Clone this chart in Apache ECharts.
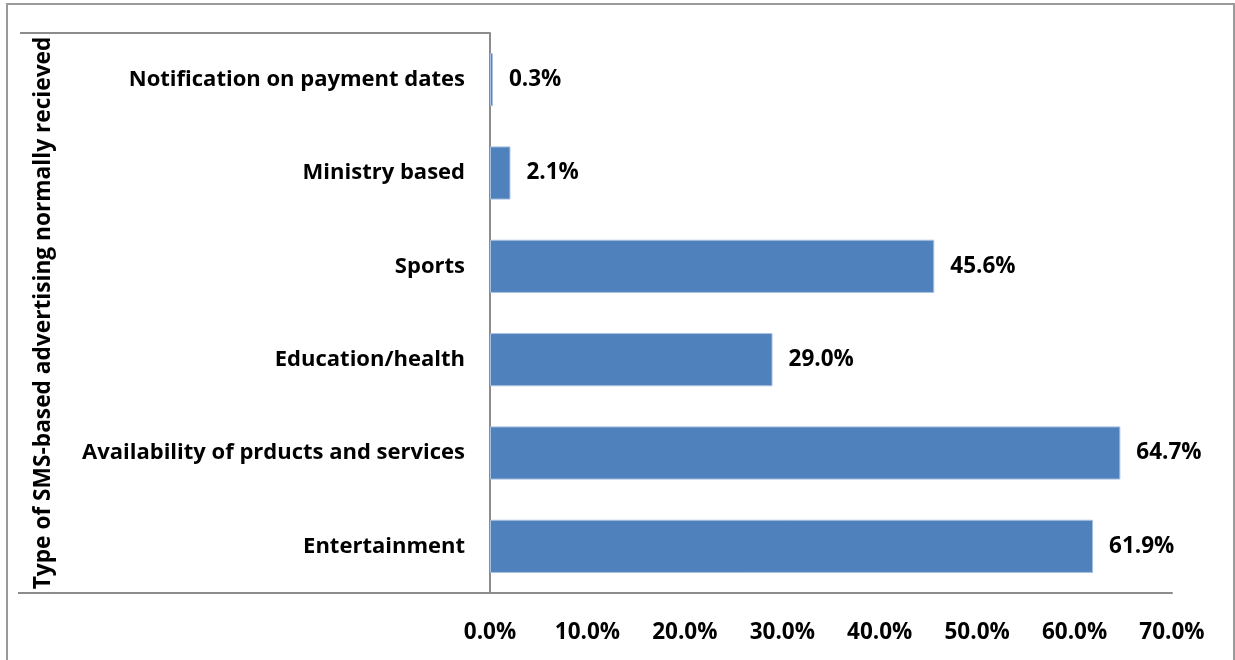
<!DOCTYPE html>
<html>
<head>
<meta charset="utf-8">
<script src="https://cdn.jsdelivr.net/npm/echarts@6/dist/echarts.min.js"></script>
<style>
  html, body { margin: 0; padding: 0; background: #ffffff; }
  #chart { width: 1235px; height: 660px; }
</style>
</head>
<body>
<div id="chart"></div>
<script>
// Categories listed bottom-to-top (category y axis grows upward)
const categories = [
  'Entertainment',
  'Availability of prducts and services',
  'Education/health',
  'Sports',
  'Ministry based',
  'Notification on payment dates'
];
const shares = [61.9, 64.7, 29.0, 45.6, 2.1, 0.3];
const xTicks = [0, 10, 20, 30, 40, 50, 60, 70];
const axisTitle = 'Type of SMS-based advertising normally recieved';

const FONT = '"Open Sans", Lato, sans-serif';
const GRID = { left: 490, right: 63, top: 33, bottom: 67 };
const LINE = '#8c8c8c';

const chart = echarts.init(document.getElementById('chart'), null, { renderer: 'canvas' });

const plotBottom = 660 - GRID.bottom;

chart.setOption({
  backgroundColor: '#ffffff',
  animation: false,
  grid: GRID,
  xAxis: {
    type: 'value',
    min: xTicks[0],
    max: xTicks[xTicks.length - 1],
    interval: 10,
    axisLine: { show: true, lineStyle: { color: LINE, width: 2 } },
    axisTick: { show: false },
    splitLine: { show: false },
    axisLabel: {
      margin: 28,
      color: '#000',
      fontFamily: FONT,
      fontWeight: 'bold',
      fontSize: 22.5,
      formatter: v => v.toFixed(1) + '%'
    }
  },
  yAxis: {
    type: 'category',
    data: categories,
    axisLine: { show: true, lineStyle: { color: LINE, width: 2 } },
    axisTick: { show: false },
    axisLabel: {
      margin: 25,
      color: '#000',
      fontFamily: FONT,
      fontWeight: 'bold',
      fontSize: 22
    },
    name: axisTitle,
    nameLocation: 'middle',
    nameRotate: 90,
    nameGap: 435,
    nameTextStyle: {
      color: '#000',
      fontFamily: FONT,
      fontWeight: 'bold',
      fontSize: 22.7
    }
  },
  series: [{
    type: 'bar',
    data: shares,
    barCategoryGap: '43%',
    itemStyle: { color: '#4f81bd', borderColor: '#a9c1e0', borderWidth: 1 },
    label: {
      show: true,
      position: 'right',
      distance: 16,
      color: '#000',
      fontFamily: FONT,
      fontWeight: 'bold',
      fontSize: 22.5,
      formatter: p => p.value.toFixed(1) + '%'
    }
  }],
  graphic: [
    // outer chart frame
    {
      type: 'rect', silent: true,
      shape: { x: 7, y: 4, width: 1227, height: 670 },
      style: { fill: 'none', stroke: '#9a9a9a', lineWidth: 2 }
    },
    // top rule over the category label column
    {
      type: 'line', silent: true,
      shape: { x1: 20, y1: GRID.top, x2: GRID.left, y2: GRID.top },
      style: { stroke: LINE, lineWidth: 2 }
    },
    // bottom rule extending the value axis line to the left
    {
      type: 'line', silent: true,
      shape: { x1: 18, y1: plotBottom, x2: GRID.left, y2: plotBottom },
      style: { stroke: LINE, lineWidth: 2 }
    }
  ]
});
</script>
</body>
</html>
